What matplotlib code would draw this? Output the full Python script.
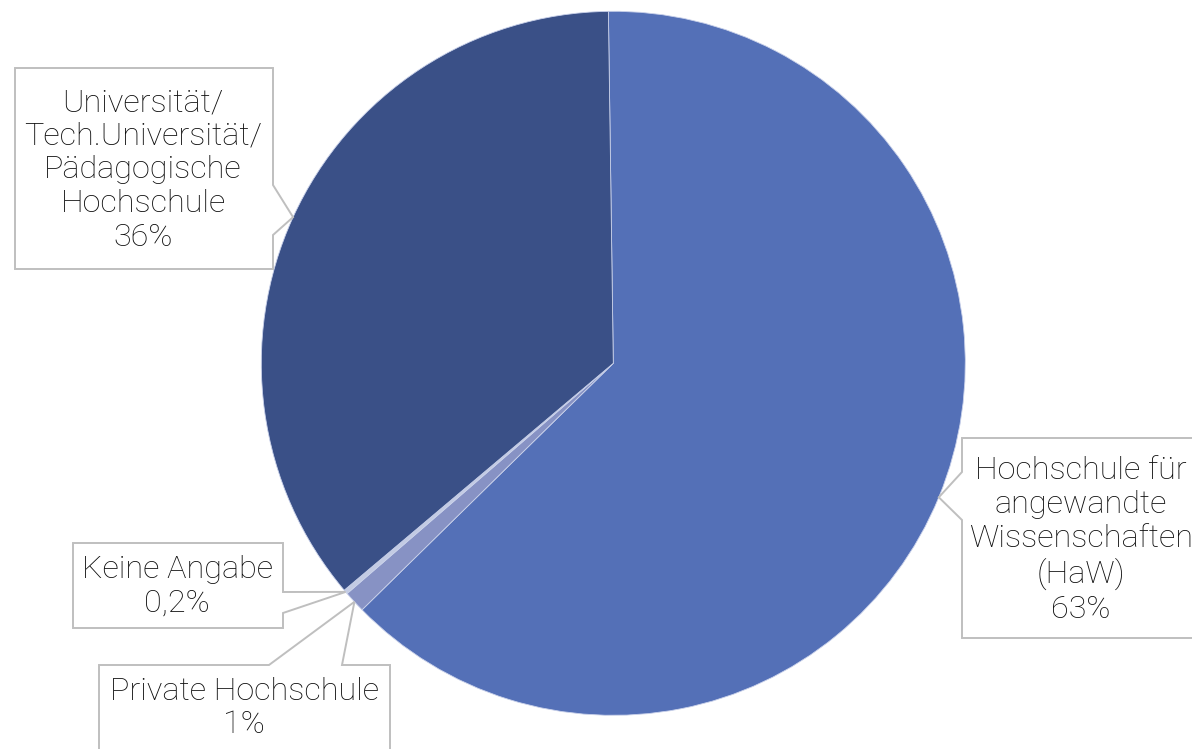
import numpy as np
import matplotlib.pyplot as plt
from matplotlib.patches import Polygon

plt.rcParams["font.family"] = ["Roboto", "DejaVu Sans"]

# Hochschultyp shares (clockwise from 12 o'clock)
categories = [
    "Hochschule für\nangewandte\nWissenschaften\n(HaW)",
    "Private Hochschule",
    "Keine Angabe",
    "Universität/\nTech.Universität/\nPädagogische\nHochschule",
]
shares = [63, 1, 0.2, 36]
share_labels = ["63%", "1%", "0,2%", "36%"]
colors = ["#5470B7", "#8792C4", "#C3CBE3", "#3A5087"]

W, H = 1192, 749
fig = plt.figure(figsize=(W / 100, H / 100), dpi=100)
ax = fig.add_axes([0, 0, 1, 1])

cx, cy, r = 613.3, H - 363.3, 352
wedges, _ = ax.pie(
    shares,
    colors=colors,
    center=(cx, cy),
    radius=r,
    startangle=90.8,
    counterclock=False,
    wedgeprops=dict(edgecolor="#C9D1EA", linewidth=0.6),
    frame=True,
)
ax.set_xlim(0, W)
ax.set_ylim(0, H)
ax.set_aspect("equal")
ax.axis("off")


def rim_point(w):
    a = np.deg2rad((w.theta1 + w.theta2) / 2)
    return cx + r * np.cos(a), cy + r * np.sin(a)


def px(x, y):
    return x, H - y


# callout boxes: (left, top, right, bottom) in pixels, pointer side and its base on that side
boxes = [
    ((962, 438, 1215, 638), "left", (472, 520), (1081, 540)),
    ((99, 665, 390, 770), "top", (269, 342), (244, 708)),
    ((73, 543, 283, 628), "right", (592, 613), (177, 586)),
    ((15, 68, 273, 269), "right", (185, 235), (143, 170)),
]

for w, name, pct, (box, side, base, tpos) in zip(wedges, categories, share_labels, boxes):
    l, t, rr, b = box
    tip = rim_point(w)
    if side == "right":
        pts = [px(l, t), px(rr, t), px(rr, base[0]), tip, px(rr, base[1]), px(rr, b), px(l, b)]
    elif side == "left":
        pts = [px(l, t), px(rr, t), px(rr, b), px(l, b), px(l, base[1]), tip, px(l, base[0])]
    else:
        pts = [px(l, t), px(base[0], t), tip, px(base[1], t), px(rr, t), px(rr, b), px(l, b)]
    ax.add_patch(Polygon(pts, closed=True, facecolor="white", edgecolor="#BFBFBF",
                         linewidth=1.4, zorder=5))
    ax.text(tpos[0], H - tpos[1], name + "\n" + pct, ha="center", va="center",
            fontsize=23.3, fontweight="light", color="#0D0D0D", linespacing=1.2, zorder=6)

fig.savefig("out.png", dpi=100)
